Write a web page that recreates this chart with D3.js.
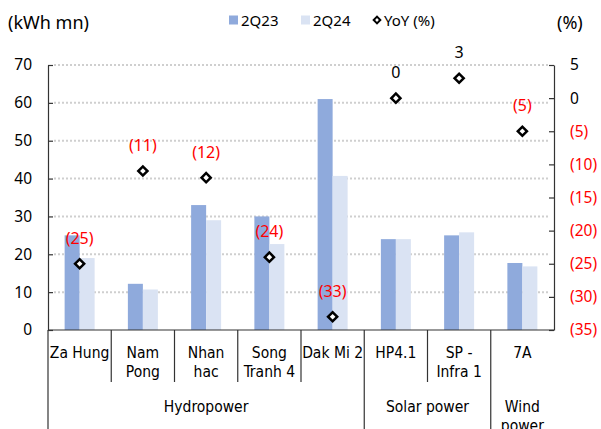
<!DOCTYPE html>
<html>
<head>
<meta charset="utf-8">
<script src="https://cdn.jsdelivr.net/npm/d3@7"></script>
<style>
  body { margin: 0; background: #fff; }
  text { font-family: "Noto Sans", sans-serif; }
  .cat { font-family: "DejaVu Sans Condensed", "DejaVu Sans", sans-serif; font-stretch: condensed; }
</style>
</head>
<body>
<script>
// plant output, 2Q23 vs 2Q24

var categories = ["Za Hung", "Nam\nPong", "Nhan\nhac", "Song\nTranh 4", "Dak Mi 2", "HP4.1", "SP -\nInfra 1", "7A"];
var groups = ["Hydropower", "Solar power", "Wind\npower"];
var groupSizes = [5, 2, 1];
var series = ["2Q23", "2Q24"];
var val2Q23 = [25, 12.2, 33, 30, 61, 24, 25, 17.7];
var val2Q24 = [19, 10.7, 29, 22.7, 40.7, 24, 25.8, 16.8];
var yoy = [-25, -11, -12, -24, -33, 0, 3, -5];
var leftTicks = [0, 10, 20, 30, 40, 50, 60, 70];
var rightTicks = [-35, -30, -25, -20, -15, -10, -5, 0, 5];

var width = 601,
	height = 429,
	plotLeft = 48,
	plotRight = 554,
	plotTop = 65,
	plotBottom = 330;

var colors = { "2Q23": "#8faadc", "2Q24": "#dae3f3" };

var fmt = function(v){ return v < 0 ? "(" + Math.abs(v) + ")" : String(v); };

var svg = d3.select("body").append("svg")
	.attr("width", width)
	.attr("height", height);

var x = d3.scaleBand()
	.domain(categories)
	.range([plotLeft, plotRight]);

var xs = d3.scaleBand()
	.domain(series)
	.range([x.bandwidth()/2 - 15, x.bandwidth()/2 + 15]);

var yL = d3.scaleLinear().domain([0, 70]).range([plotBottom, plotTop]);
var yR = d3.scaleLinear().domain([-35, 5]).range([plotBottom, plotTop]);

// dotted grid
svg.append("g").selectAll("line")
	.data(leftTicks.filter(function(d){ return d > 0; }))
	.enter().append("line")
	.attr("x1", plotLeft + 6)
	.attr("x2", plotRight - 6)
	.attr("y1", function(d){ return yL(d); })
	.attr("y2", function(d){ return yL(d); })
	.attr("stroke", "#cfcfcf")
	.attr("stroke-width", 2)
	.attr("stroke-dasharray", "2,2");

// bars
var rows = categories.map(function(c, i){
	return { cat: c, values: [{ s: "2Q23", v: val2Q23[i] }, { s: "2Q24", v: val2Q24[i] }], yoy: yoy[i] };
});

var catG = svg.selectAll(".catg")
	.data(rows)
	.enter().append("g")
	.attr("transform", function(d){ return "translate(" + x(d.cat) + ",0)"; });

catG.selectAll("rect")
	.data(function(d){ return d.values; })
	.enter().append("rect")
	.attr("x", function(d){ return xs(d.s); })
	.attr("width", xs.bandwidth())
	.attr("y", function(d){ return yL(d.v); })
	.attr("height", function(d){ return plotBottom - yL(d.v); })
	.attr("fill", function(d){ return colors[d.s]; });

// axes
var axL = svg.append("g")
	.attr("transform", "translate(" + plotLeft + ",0)")
	.call(d3.axisLeft(yL).tickValues(leftTicks).tickSizeInner(-5).tickSizeOuter(0).tickPadding(16));
var axR = svg.append("g")
	.attr("transform", "translate(" + plotRight + ",0)")
	.call(d3.axisRight(yR).tickValues(rightTicks).tickSizeInner(-5).tickSizeOuter(0).tickPadding(16).tickFormat(fmt));

[axL, axR].forEach(function(a){
	a.select(".domain").attr("stroke", "#333").attr("stroke-width", 1.2);
	a.selectAll(".tick line").attr("stroke", "#333").attr("stroke-width", 1.2);
	a.selectAll(".tick text").attr("font-family", "Noto Sans").attr("font-size", 15.5).attr("fill", "#000");
});
axR.selectAll(".tick text").attr("fill", function(d){ return d < 0 ? "#ff0000" : "#000"; });

// left axis continues down past category rows
svg.append("line")
	.attr("x1", plotLeft).attr("x2", plotLeft)
	.attr("y1", plotBottom).attr("y2", height)
	.attr("stroke", "#333").attr("stroke-width", 1.2);

// x baseline
svg.append("line")
	.attr("x1", plotLeft).attr("x2", plotRight)
	.attr("y1", plotBottom).attr("y2", plotBottom)
	.attr("stroke", "#333").attr("stroke-width", 1.2);

// category separators
var starts = [0];
groupSizes.forEach(function(n, i){ starts.push(starts[i] + n); });

categories.forEach(function(c, i){
	if (i === 0) return;
	var xx = x(c);
	var isGroup = starts.indexOf(i) >= 0;
	svg.append("line")
		.attr("x1", xx).attr("x2", xx)
		.attr("y1", plotBottom).attr("y2", isGroup ? height : 382)
		.attr("stroke", "#333").attr("stroke-width", 1.2);
});

// category labels
catG.append("text")
	.attr("class", "cat")
	.attr("text-anchor", "middle")
	.attr("font-size", 15.5)
	.attr("fill", "#000")
	.selectAll("tspan")
	.data(function(d){ return d.cat.split("\n"); })
	.enter().append("tspan")
	.attr("x", x.bandwidth()/2)
	.attr("y", function(d, i){ return 358 + i*19; })
	.text(function(d){ return d; });

// group labels
groups.forEach(function(g, i){
	var x0 = x(categories[starts[i]]);
	var x1 = x(categories[starts[i+1] - 1]) + x.bandwidth();
	svg.append("text")
		.attr("class", "cat")
		.attr("text-anchor", "middle")
		.attr("font-size", 15.5)
		.attr("fill", "#000")
		.selectAll("tspan")
		.data(g.split("\n"))
		.enter().append("tspan")
		.attr("x", (x0 + x1)/2)
		.attr("y", function(d, j){ return 412 + j*19; })
		.text(function(d){ return d; });
});

// YoY markers
var diamond = d3.symbol().type(d3.symbolSquare).size(42);

catG.append("path")
	.attr("d", diamond)
	.attr("transform", function(d){ return "translate(" + x.bandwidth()/2 + "," + yR(d.yoy) + ") rotate(45)"; })
	.attr("fill", "#fff")
	.attr("stroke", "#000")
	.attr("stroke-width", 2.5);

catG.append("text")
	.attr("x", x.bandwidth()/2)
	.attr("y", function(d){ return yR(d.yoy) - 20; })
	.attr("text-anchor", "middle")
	.attr("font-size", 16)
	.attr("fill", function(d){ return d.yoy < 0 ? "#ff0000" : "#000"; })
	.text(function(d){ return fmt(d.yoy); });

// titles
svg.append("text")
	.attr("x", 8).attr("y", 29)
	.attr("font-size", 18)
	.text("(kWh mn)");
svg.append("text")
	.attr("x", 557).attr("y", 29)
	.attr("font-size", 18)
	.text("(%)");

// legend
var legend = svg.append("g").attr("font-size", 15);
series.forEach(function(s, i){
	var lx = [229, 301][i];
	legend.append("rect")
		.attr("x", lx).attr("y", 15.5)
		.attr("width", 9).attr("height", 9)
		.attr("fill", colors[s]);
	legend.append("text")
		.attr("x", lx + 12).attr("y", 26)
		.text(s);
});
legend.append("path")
	.attr("d", d3.symbol().type(d3.symbolSquare).size(22))
	.attr("transform", "translate(377,20) rotate(45)")
	.attr("fill", "#fff")
	.attr("stroke", "#000")
	.attr("stroke-width", 2);
legend.append("text")
	.attr("x", 384).attr("y", 26)
	.text("YoY (%)");
</script>
</body>
</html>
